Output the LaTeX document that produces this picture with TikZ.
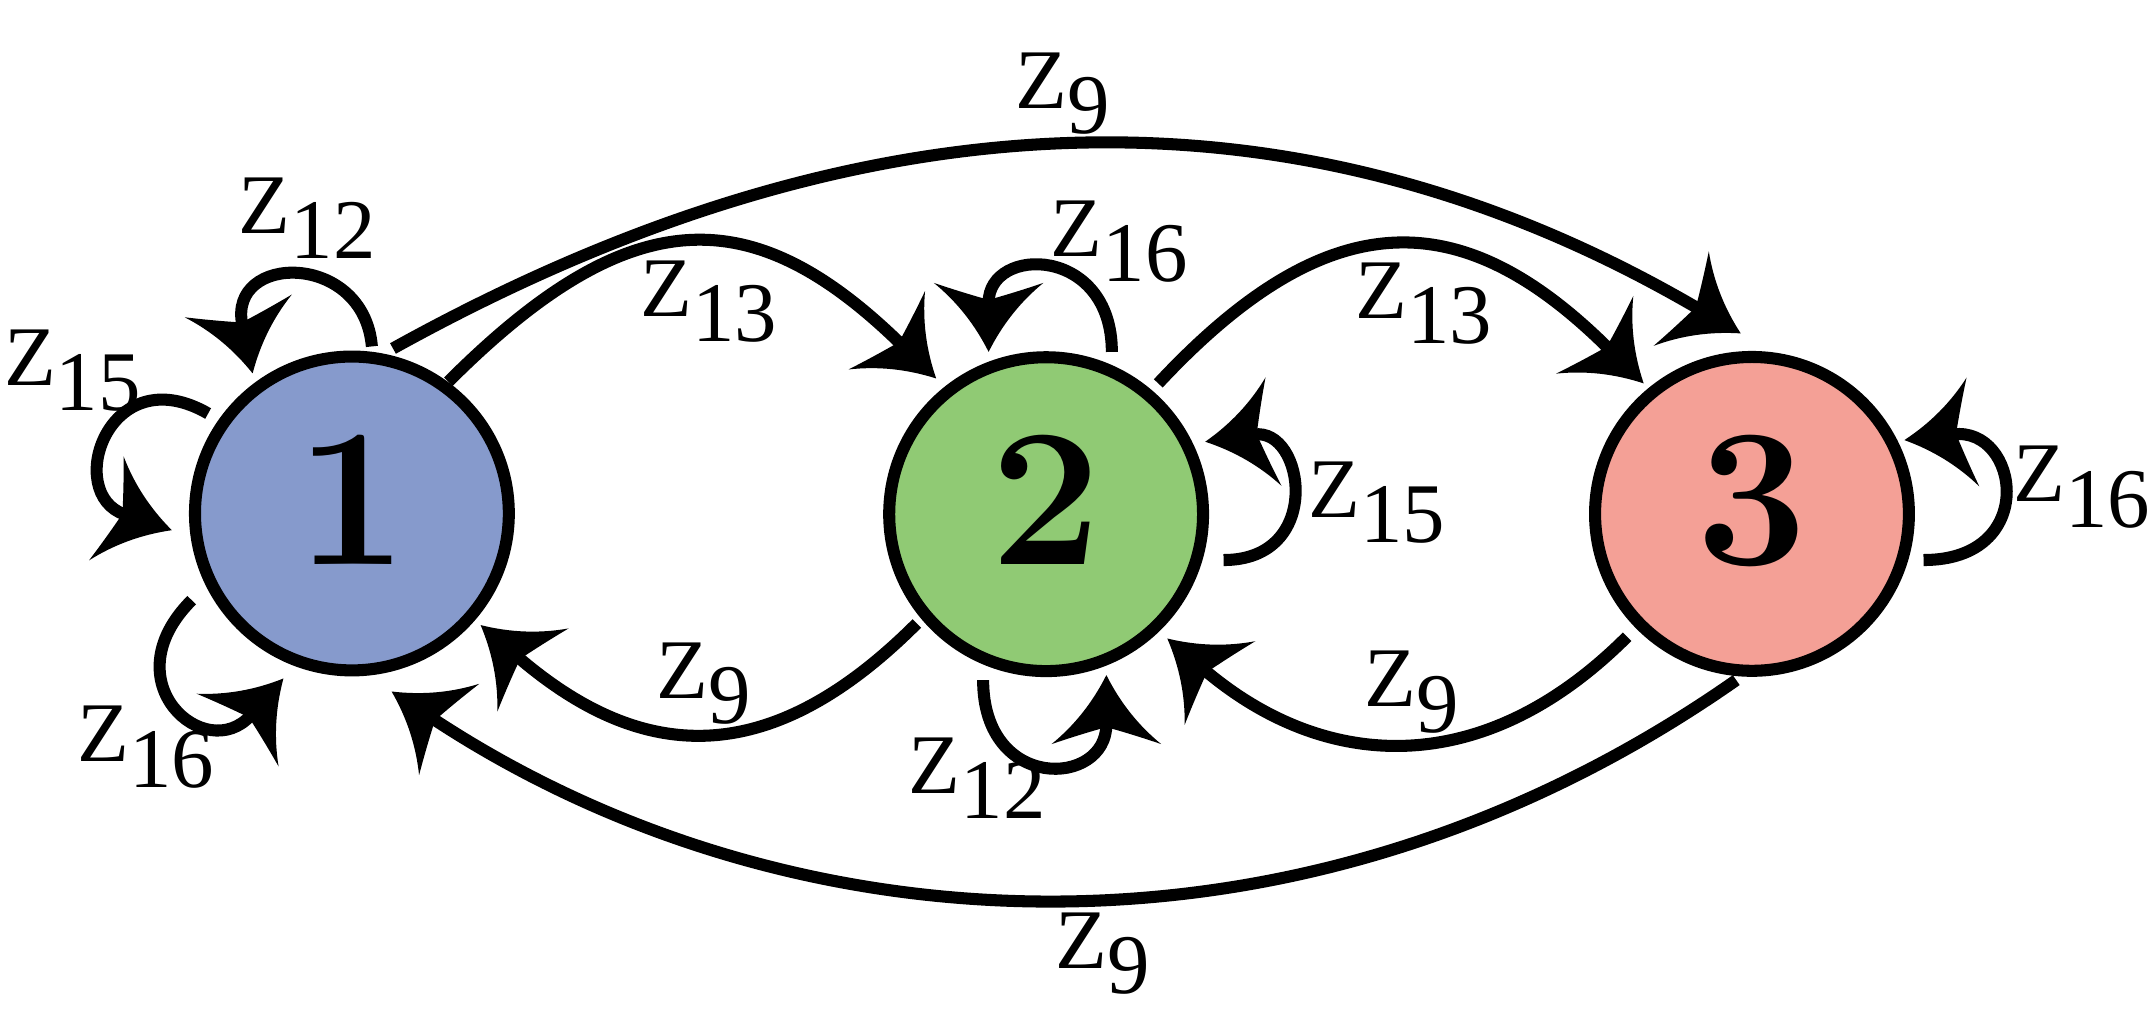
\documentclass[tikz,border=0pt]{standalone}
\usepackage{fontspec}
\newfontfamily\zfont{Liberation Serif}
\usetikzlibrary{arrows.meta}
\definecolor{cone}{RGB}{134,154,204}
\definecolor{ctwo}{RGB}{144,202,116}
\definecolor{cthree}{RGB}{244,160,150}
\makeatletter
\pgfdeclarearrow{
  name = Barb,
  setup code = {
    \pgfarrowssettipend{0pt}
    \pgfarrowssetlineend{-18pt}
    \pgfarrowssetvisualbackend{-19pt}
    \pgfarrowssetbackend{-25.2pt}
    \pgfarrowshullpoint{0pt}{0pt}
    \pgfarrowshullpoint{-25.2pt}{20pt}
    \pgfarrowshullpoint{-25.2pt}{-20pt}
  },
  drawing code = {
    \pgfpathmoveto{\pgfpointorigin}
    \pgfpathquadraticcurveto{\pgfpoint{-15pt}{7.5pt}}{\pgfpoint{-25.2pt}{20pt}}
    \pgfpathquadraticcurveto{\pgfpoint{-21.8pt}{10pt}}{\pgfpoint{-19pt}{0pt}}
    \pgfpathquadraticcurveto{\pgfpoint{-21.8pt}{-10pt}}{\pgfpoint{-25.2pt}{-20pt}}
    \pgfpathquadraticcurveto{\pgfpoint{-15pt}{-7.5pt}}{\pgfpointorigin}
    \pgfpathclose
    \pgfusepathqfill
  }
}
\makeatother
\newcommand{\zlab}[1]{Z\raisebox{-9.2pt}{#1}}
\begin{document}
\begin{tikzpicture}[x=0.5pt,y=0.5pt,
  state/.style={circle, draw=black, line width=4.4pt, minimum size=114.6pt, inner sep=0pt,
    font=\fontsize{72}{72}\selectfont\bfseries, text height=46pt, text depth=9pt},
  arr/.style={line width=4.4pt, -{Barb}},
  lab/.style={font=\zfont\fontsize{31}{31}\selectfont, inner sep=0pt, anchor=base west}]
\fill[white] (0,0) rectangle (1568,-741.27);
\useasboundingbox (0,0) rectangle (1568,-741.27);

\node[state, fill=cone] (n1) at (257,-375) {1};
\node[state, fill=ctwo] (n2) at (764,-375.5) {2};
\node[state, fill=cthree] (n3) at (1279.5,-375.3) {3};

% edges between states
\draw[arr] ([shift={(70.4,96.2)}]n1.center) .. controls +(45:188) and +(135.7:188) .. ([shift={(-80.3,99.1)}]n2.center);
\draw[arr] ([shift={(81.9,95.5)}]n2.center) .. controls +(47:185) and +(135.2:185) .. ([shift={(-79.1,95.3)}]n3.center);
\draw[arr] ([shift={(30,120.5)}]n1.center) .. controls +(29:410) and +(149.7:360) .. ([shift={(-8.2,131.8)}]n3.center);
\draw[arr] ([shift={(-94.4,-79.8)}]n2.center) .. controls +(225:154) and +(319.4:154) .. ([shift={(94,-81.5)}]n1.center);
\draw[arr] ([shift={(-91.2,-89.7)}]n3.center) .. controls +(225:150) and +(319.8:150) .. ([shift={(88.5,-90.8)}]n2.center);
\draw[arr] ([shift={(-11.5,-121.4)}]n3.center) .. controls +(215:390) and +(326.6:345) .. ([shift={(29,-130)}]n1.center);

% self loops
\draw[arr] ([shift={(14.6,122)}]n1.center) .. controls +(95:70) and +(102:90) .. ([shift={(-72.5,102.3)}]n1.center);
\draw[arr] ([shift={(-105,73)}]n1.center) .. controls +(150:84) and +(161.6:84) .. ([shift={(-131.5,-12.2)}]n1.center);
\draw[arr] ([shift={(-117,-63.3)}]n1.center) .. controls +(225:85) and +(228.4:85) .. ([shift={(-50,-120.5)}]n1.center);
\draw[arr] ([shift={(48,118.5)}]n2.center) .. controls +(90:78) and +(90:78) .. ([shift={(-42,118.5)}]n2.center);
\draw[arr] ([shift={(129.6,-33.5)}]n2.center) .. controls +(0:73.5) and +(8.4:73.5) .. ([shift={(116.2,52.9)}]n2.center);
\draw[arr] ([shift={(-46,-121.2)}]n2.center) .. controls +(270:82) and +(270:82) .. ([shift={(44,-117.5)}]n2.center);
\draw[arr] ([shift={(125.3,-33.7)}]n3.center) .. controls +(0:84.6) and +(6.7:84.6) .. ([shift={(111.3,53.9)}]n3.center);

% labels
\node[lab] (l1) at (174,-170.4) {\zlab{12}};
\node[lab] (l2) at (2.6,-281.2) {\zlab{15}};
\node[lab] (l3) at (56,-556.4) {\zlab{16}};
\node[lab] (l4) at (467.5,-231.3) {\zlab{13}};
\node[lab] (l5) at (989.4,-232.5) {\zlab{13}};
\node[lab] (l6) at (741.5,-79.1) {\zlab{9}};
\node[lab] (l7) at (767,-187.5) {\zlab{16}};
\node[lab] (l8) at (955,-378) {\zlab{15}};
\node[lab] (l9) at (663.3,-579.5) {\zlab{12}};
\node[lab] (l10) at (478.8,-510) {\zlab{9}};
\node[lab] (l11) at (995.9,-516.2) {\zlab{9}};
\node[lab] (l12) at (770.3,-707.3) {\zlab{9}};
\node[lab] (l13) at (1470,-366.5) {\zlab{16}};
\end{tikzpicture}
\end{document}
